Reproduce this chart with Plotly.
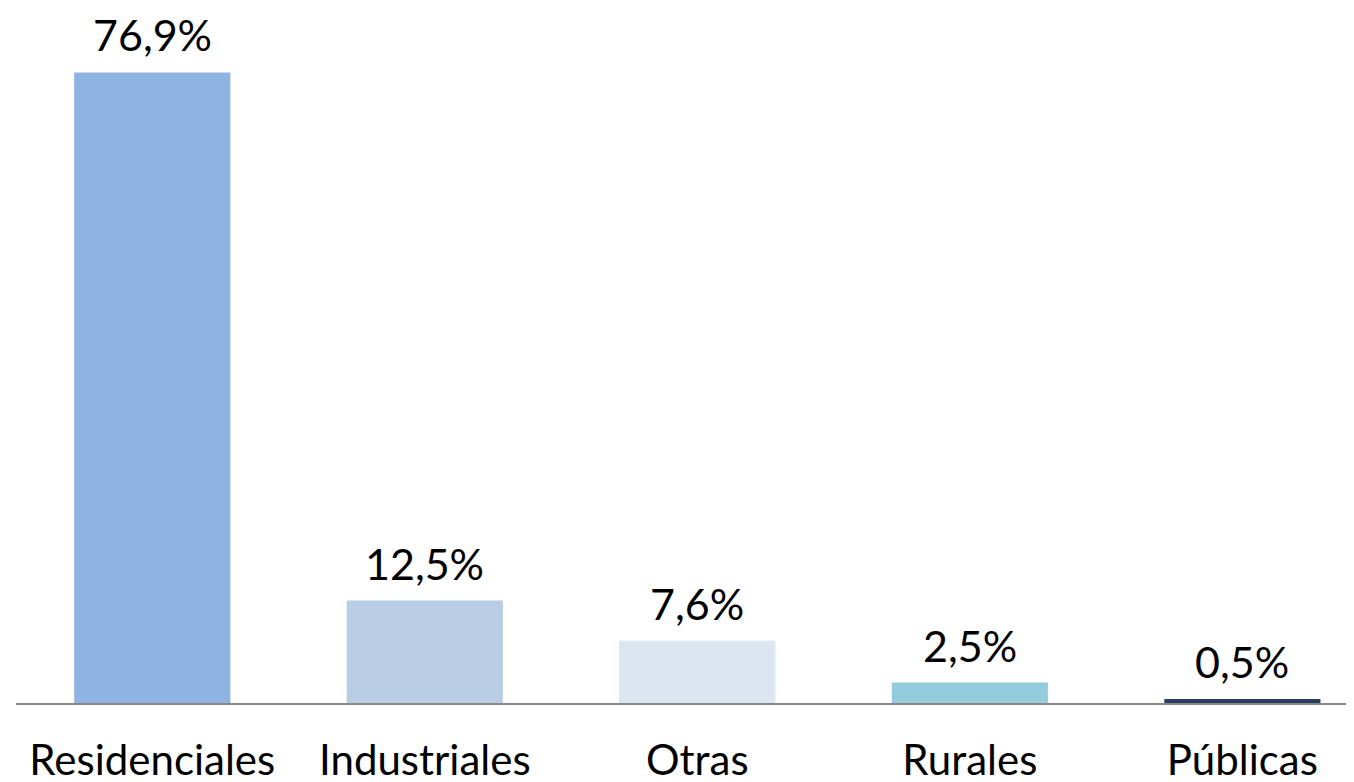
import plotly.graph_objects as go

categories = ["Residenciales", "Industriales", "Otras", "Rurales", "Públicas"]
values = [76.9, 12.5, 7.6, 2.5, 0.5]
colors = ["#8EB4E3", "#B9CDE5", "#DCE6F2", "#93CDDD", "#243F60"]

FONT = "Lato"
xs = list(range(len(categories)))

fig = go.Figure(go.Bar(
    x=xs, y=values,
    marker=dict(color=colors, line=dict(width=0)),
    width=0.573,
    cliponaxis=False,
    hoverinfo="skip",
))

for x, v in zip(xs, values):
    fig.add_annotation(
        x=x, y=v, text=f"{v:.1f}%".replace(".", ","),
        showarrow=False, yanchor="bottom", xanchor="center", yshift=10,
        font=dict(family=FONT, size=43, color="#000000"),
    )

fig.update_layout(
    width=1354, height=782,
    margin=dict(l=8, r=0, t=0, b=87),
    paper_bgcolor="white", plot_bgcolor="white",
    showlegend=False,
    font=dict(family=FONT, color="#000000"),
    xaxis=dict(
        range=[-0.5, 4.439], tickmode="array",
        tickvals=xs, ticktext=categories,
        tickfont=dict(family=FONT, size=42, color="#000000"),
        showline=True, linecolor="#888888", linewidth=2,
        showgrid=False, zeroline=False, ticks="",
        ticklabelstandoff=20,
    ),
    yaxis=dict(range=[0, 84.76], visible=False, showgrid=False, zeroline=False),
)

fig.write_html("out.html")
